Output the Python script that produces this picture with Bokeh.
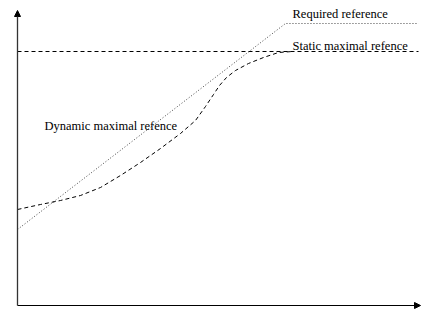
from bokeh.plotting import figure
from bokeh.models import Range1d, Arrow, NormalHead, ColumnDataSource
from bokeh.core.properties import value
from bokeh.embed import file_html
from bokeh.resources import INLINE

# Data (abstract units: time t, reference value r)
dyn_t = [0, 0.575, 1.075, 1.575, 2.075, 2.575, 3.075, 3.575, 4.075, 4.45, 4.7, 4.9,
         5.05, 5.225, 5.45, 5.775, 6.15, 6.525, 6.875]
dyn_r = [3.84, 4.04, 4.2, 4.4, 4.72, 5.2, 5.72, 6.28, 6.88, 7.4, 7.96, 8.44,
         8.8, 9.12, 9.4, 9.68, 9.92, 10.12, 10.16]
static_t = [0, 10.025]
static_r = [10.16, 10.16]
req_t = [0, 6.7, 10.025]
req_r = [3.04, 11.28, 11.28]
labels = ["Required reference", "Static maximal refence", "Dynamic maximal refence"]
label_t = [6.875, 6.875, 0.675]
label_r = [11.68, 10.4, 7.2]
x_axis_end = 10.075
y_axis_end = 11.8

W, H = 424, 312
p = figure(width=W, height=H, output_backend="svg", toolbar_location=None,
           x_axis_type=None, y_axis_type=None, min_border=0,
           x_range=Range1d(-0.425, -0.425 + W / 40),
           y_range=Range1d(-0.28, -0.28 + H / 25))
p.outline_line_color = None
p.grid.visible = False
p.background_fill_color = "white"
p.border_fill_color = "white"

p.line(static_t, static_r, line_color="black", line_width=1, line_dash="4 3")
p.line(req_t, req_r, line_color="#444444", line_width=1, line_dash="1 2")
p.line(dyn_t, dyn_r, line_color="black", line_width=1, line_dash="4 3")

src = ColumnDataSource(dict(x=label_t, y=label_r, text=labels))
p.text(x="x", y="y", text="text", source=src, text_font=value("Liberation Serif"),
       text_font_size="12.5px", text_color="black", text_align="left",
       text_baseline="alphabetic")

p.add_layout(Arrow(end=NormalHead(size=6, fill_color="black", line_color="black"),
                   x_start=0, y_start=0, x_end=x_axis_end, y_end=0,
                   line_color="black", line_width=1.2))
p.add_layout(Arrow(end=NormalHead(size=6, fill_color="black", line_color="black"),
                   x_start=0, y_start=0, x_end=0, y_end=y_axis_end,
                   line_color="#333333", line_width=1.3))

open("out.html", "w").write(file_html(p, INLINE))
